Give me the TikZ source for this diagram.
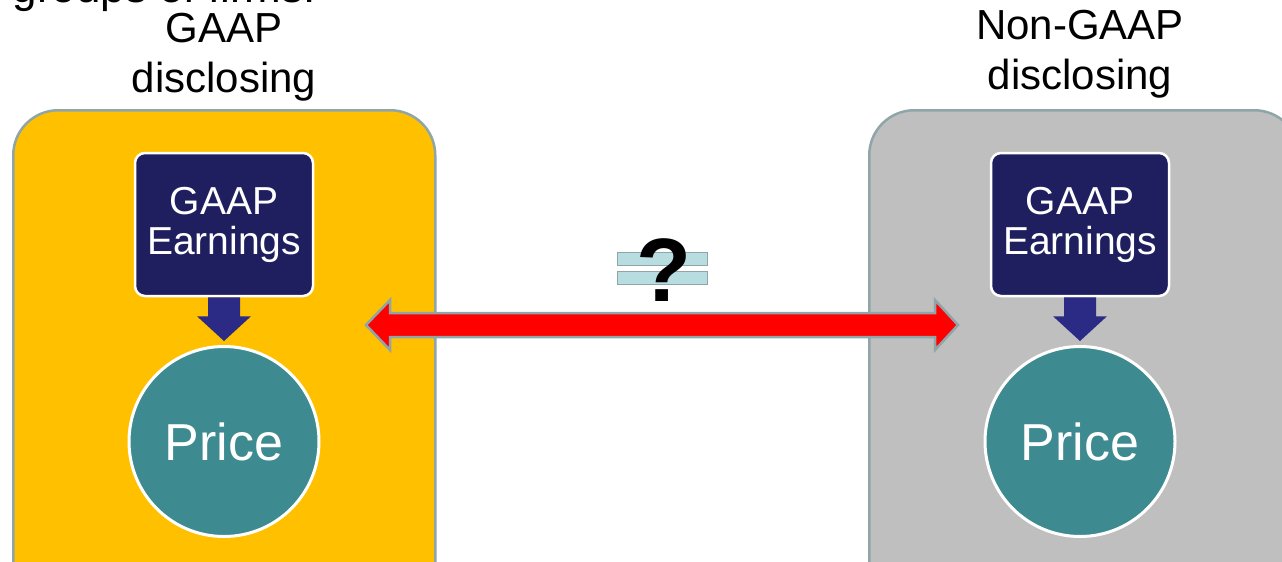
\documentclass[tikz,border=0pt]{standalone}
\usepackage{fontspec}
\setmainfont{Liberation Sans}
\usetikzlibrary{calc}
\definecolor{gold}{HTML}{FFC000}
\definecolor{panelgray}{HTML}{BFBFBF}
\definecolor{edgeblue}{HTML}{8FA5A8}
\definecolor{navy}{HTML}{1F1F60}
\definecolor{arrowblue}{HTML}{2B2A84}
\definecolor{teal}{HTML}{3D8B91}
\definecolor{barblue}{HTML}{B7DDE0}
\tikzset{
  panel/.style={draw=edgeblue, line width=2.5pt, rounded corners=45pt, anchor=north west, inner sep=0pt},
  earnbox/.style={draw=white, line width=2.5pt, fill=navy, rounded corners=10pt, minimum width=178pt, minimum height=143pt, inner sep=0pt, text=white, align=center, font=\fontsize{39}{40}\selectfont},
  pricecircle/.style={circle, draw=white, line width=3pt, fill=teal, minimum size=190pt, inner sep=0pt, text=white, font=\fontsize{52}{60}\selectfont},
  grouplabel/.style={anchor=north, inner sep=0pt, align=center, font=\fontsize{42}{50}\selectfont},
  bar/.style={draw=edgeblue, line width=1.5pt, fill=barblue, minimum width=90pt, minimum height=13pt, inner sep=0pt},
  downarrow/.style={fill=arrowblue},
  redarrow/.style={fill=red, draw=edgeblue, line width=2.5pt, line join=miter}
}
\begin{document}
\begin{tikzpicture}[x=1pt, y=-1pt]
\useasboundingbox (0,0) rectangle (1282,562);
\clip (0,0) rectangle (1282,562);
% cut-off heading
\node[anchor=base east, inner sep=0pt, font=\fontsize{44}{50}\selectfont] (head) at (316,2) {groups of firms:};
% panels
\node[panel, fill=gold, minimum width=422pt, minimum height=520pt] (lp) at (12,109) {};
\node[panel, fill=panelgray, minimum width=430pt, minimum height=520pt] (rp) at (868,109) {};
% labels
\node[grouplabel] (ll) at (224,13) {GAAP\\disclosing};
\node[grouplabel] (rl) at (1080,10) {Non-GAAP\\disclosing};
% earnings boxes
\node[earnbox] (e1) at (224,224.5) {GAAP\\Earnings};
\node[earnbox] (e2) at (1080,224.5) {GAAP\\Earnings};
% price circles
\node[pricecircle] (p1) at (224,441.5) {Price};
\node[pricecircle] (p2) at (1080,441.5) {Price};
% down arrows
\foreach \e/\p in {e1/p1, e2/p2} {
  \fill[downarrow] ($(\e.south)+(-16,0)$) -- ($(\e.south)+(16,0)$)
    -- ($(\e.south)+(16,19)$) -- ($(\e.south)+(27,19)$)
    -- ($(\p.north)+(0,-4)$)
    -- ($(\e.south)+(-27,19)$) -- ($(\e.south)+(-16,19)$) -- cycle;
}
% red double arrow
\coordinate (al) at (366,325);
\coordinate (ar) at (958,325);
\draw[redarrow] (al) -- ($(al)+(24,-25)$) -- ($(al)+(24,-12)$)
  -- ($(ar)+(-23,-12)$) -- ($(ar)+(-23,-25)$) -- (ar)
  -- ($(ar)+(-23,25)$) -- ($(ar)+(-23,12)$)
  -- ($(al)+(24,12)$) -- ($(al)+(24,25)$) -- cycle;
% not-equal sign with question mark
\node[bar] (b1) at (662.5,259) {};
\node[bar] (b2) at (662.5,278) {};
\node[inner sep=0pt, font=\fontsize{90}{90}\selectfont\bfseries] (q) at (664,270.5) {?};
\end{tikzpicture}
\end{document}
